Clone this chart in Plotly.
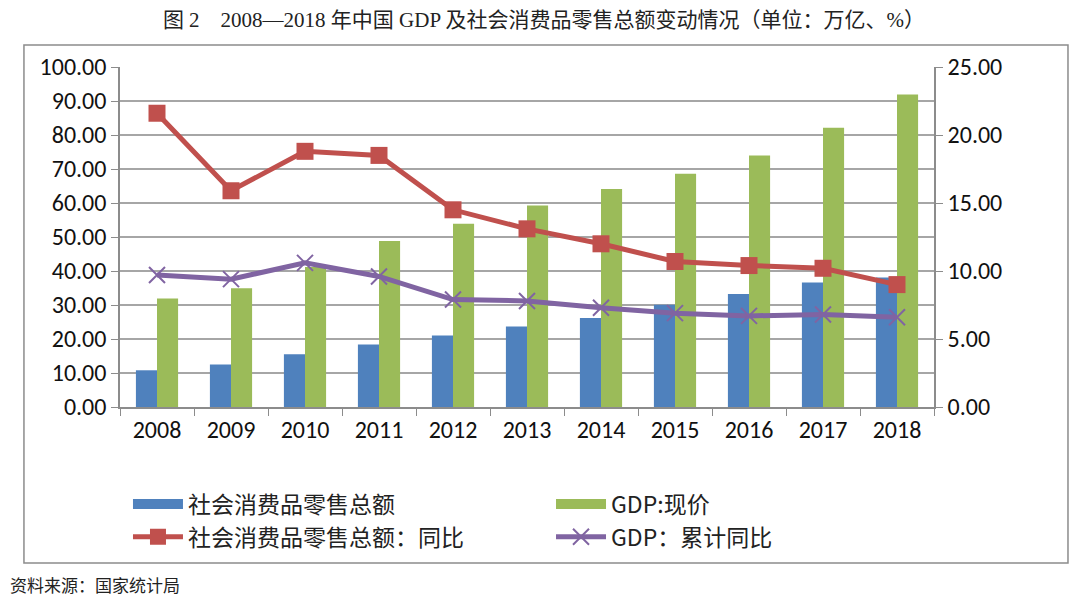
import plotly.graph_objects as go

years = ["2008", "2009", "2010", "2011", "2012", "2013", "2014", "2015", "2016", "2017", "2018"]
retail_total = [10.8, 12.5, 15.5, 18.4, 21.0, 23.7, 26.2, 30.1, 33.2, 36.6, 38.1]
gdp_nominal = [31.9, 34.9, 41.2, 48.8, 53.9, 59.3, 64.1, 68.6, 74.0, 82.1, 91.9]
retail_yoy = [21.6, 15.9, 18.8, 18.5, 14.5, 13.1, 12.0, 10.7, 10.4, 10.2, 9.0]
gdp_cum_yoy = [9.7, 9.4, 10.6, 9.6, 7.9, 7.8, 7.3, 6.9, 6.7, 6.8, 6.6]

names = ["社会消费品零售总额", "GDP:现价", "社会消费品零售总额：同比", "GDP：累计同比"]
colors = ["#4F81BD", "#9BBB59", "#C0504D", "#8064A2"]

tick_font = dict(family="Carlito, Lato, Open Sans, sans-serif", size=24, color="#111111")
cjk = "Noto Sans CJK SC"

fig = go.Figure()
# bars (legend shown via wide-swatch proxies below)
fig.add_trace(go.Bar(x=years, y=retail_total, name=names[0], showlegend=False,
                     marker=dict(color=colors[0], line=dict(width=0))))
fig.add_trace(go.Bar(x=years, y=gdp_nominal, name=names[1], showlegend=False,
                     marker=dict(color=colors[1], line=dict(width=0))))
# legend proxies for bar series
fig.add_trace(go.Scatter(x=[None], y=[None], name=names[0], mode="lines", legend="legend",
                         line=dict(color=colors[0], width=15), legendrank=1))
fig.add_trace(go.Scatter(x=[None], y=[None], name=names[1], mode="lines", legend="legend2",
                         line=dict(color=colors[1], width=15), legendrank=1))
fig.add_trace(go.Scatter(x=years, y=retail_yoy, name=names[2], yaxis="y2", mode="lines+markers",
                         line=dict(color=colors[2], width=5), legendrank=2, legend="legend",
                         marker=dict(symbol="square", size=17, color=colors[2])))
fig.add_trace(go.Scatter(x=years, y=gdp_cum_yoy, name=names[3], yaxis="y2", mode="lines+markers",
                         line=dict(color=colors[3], width=5), legendrank=2, legend="legend2",
                         marker=dict(symbol="x-thin", size=16, line=dict(color=colors[3], width=2))))

legend_font = dict(family=cjk + ", Carlito, Lato, sans-serif", size=23, color="#222222")
common_legend = dict(orientation="v", xanchor="left", yanchor="top", y=-0.222,
                     traceorder="normal", font=legend_font, itemwidth=50, tracegroupgap=0,
                     bgcolor="rgba(0,0,0,0)")

fig.update_layout(
    width=1072, height=589,
    margin=dict(l=112, r=146, t=59, b=190),
    paper_bgcolor="white", plot_bgcolor="white",
    barmode="group", bargap=0.43, bargroupgap=0,
    showlegend=True,
    legend=dict(common_legend, x=0.0098),
    legend2=dict(common_legend, x=0.5295),
    xaxis=dict(type="category", categoryorder="array", categoryarray=years,
               range=[-0.5, len(years) - 0.5], showline=True, linecolor="#8c8c8c", linewidth=1.5,
               ticks="outside", tickson="boundaries", ticklen=7, tickcolor="#8c8c8c",
               tickfont=tick_font, showgrid=False),
    yaxis=dict(range=[0, 100], dtick=10, tickformat=".2f", showline=True, linecolor="#8c8c8c",
               linewidth=1.5, ticks="outside", ticklen=7, tickcolor="#8c8c8c",
               showgrid=True, gridcolor="#a6a6a6", gridwidth=1.5, tickfont=tick_font, zeroline=False),
    yaxis2=dict(range=[0, 25], dtick=5, tickformat=".2f", overlaying="y", side="right",
                showline=True, linecolor="#8c8c8c", linewidth=1.5, ticks="outside", ticklen=7,
                tickcolor="#8c8c8c", showgrid=False, tickfont=tick_font, zeroline=False),
    title=dict(text="图 2　2008—2018 年中国 GDP 及社会消费品零售总额变动情况（单位：万亿、%）",
               x=0.5, xanchor="center", y=0.981, yanchor="middle",
               font=dict(family="Liberation Serif, " + cjk + ", serif", size=21, color="#222222")),
    shapes=[dict(type="rect", xref="paper", yref="paper", x0=-0.118, x1=1.1646, y0=-0.4588, y1=1.0647,
                 line=dict(color="#8c8c8c", width=1.5), fillcolor="rgba(0,0,0,0)", layer="below")],
    annotations=[dict(text="资料来源：国家统计局", xref="paper", yref="paper", x=-0.1376, y=-0.5235,
                      xanchor="left", yanchor="middle", showarrow=False,
                      font=dict(family=cjk, size=17, color="#222222"))],
)

fig.write_html("out.html")
